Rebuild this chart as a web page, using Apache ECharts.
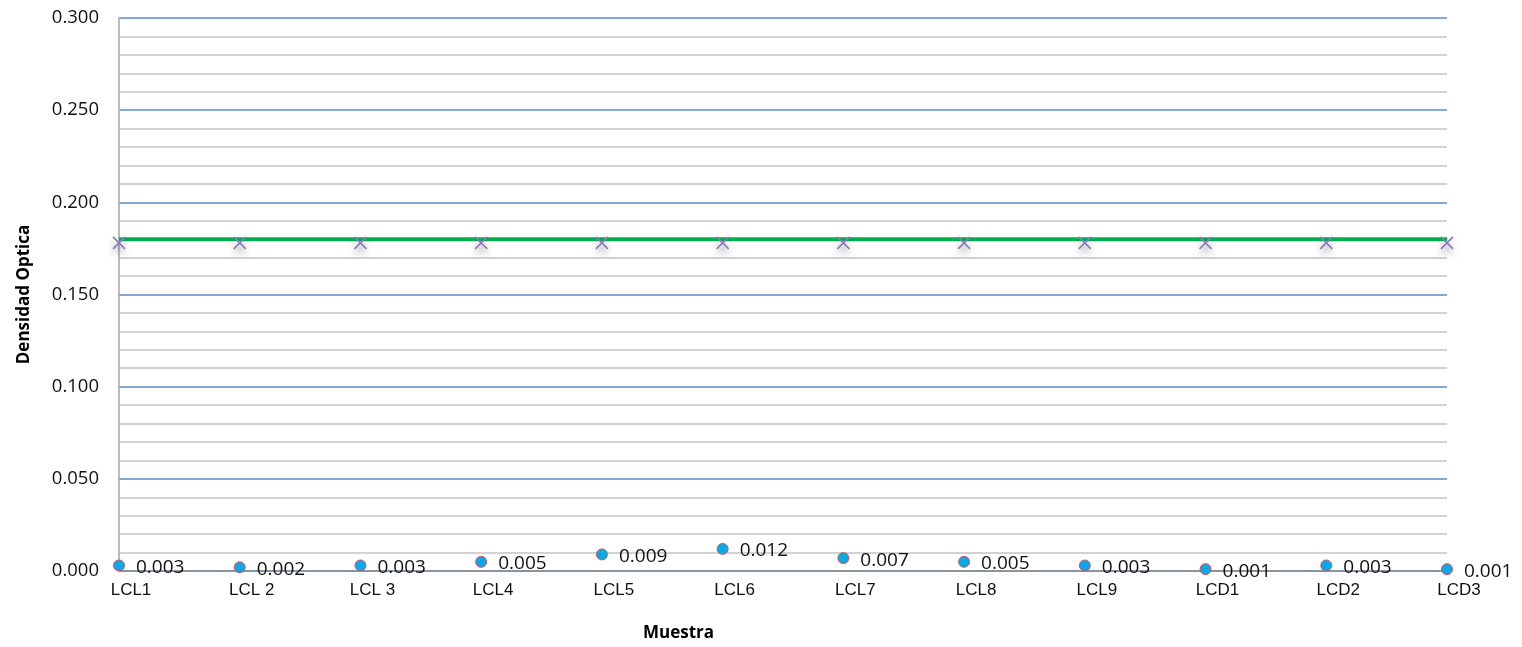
<!DOCTYPE html>
<html>
<head>
<meta charset="utf-8">
<script src="https://cdn.jsdelivr.net/npm/echarts@6/dist/echarts.min.js"></script>
<style>
  html, body { margin: 0; padding: 0; background: #fff; }
  #chart { width: 1522px; height: 647px; }
</style>
</head>
<body>
<div id="chart"></div>
<script>
// Muestras analizadas
const muestras = ['LCL1', 'LCL 2', 'LCL 3', 'LCL4', 'LCL5', 'LCL6', 'LCL7', 'LCL8', 'LCL9', 'LCD1', 'LCD2', 'LCD3'];
// Densidad óptica medida en cada muestra
const densidad = [0.003, 0.002, 0.003, 0.005, 0.009, 0.012, 0.007, 0.005, 0.003, 0.001, 0.003, 0.001];
// Punto de corte (línea verde)
const corte = [0.180, 0.180, 0.180, 0.180, 0.180, 0.180, 0.180, 0.180, 0.180, 0.180, 0.180, 0.180];
// Referencia marcada con aspas
const referencia = [0.178, 0.178, 0.178, 0.178, 0.178, 0.178, 0.178, 0.178, 0.178, 0.178, 0.178, 0.178];

const chart = echarts.init(document.getElementById('chart'));

chart.setOption({
  animation: false,
  backgroundColor: '#ffffff',
  grid: { left: 119, right: 75, top: 18, bottom: 76, containLabel: false },
  xAxis: {
    type: 'category',
    data: muestras,
    boundaryGap: false,
    axisLine: { show: true, lineStyle: { color: '#8c8c8c', width: 1.5 } },
    axisTick: { show: false },
    splitLine: { show: false },
    axisLabel: {
      color: '#111',
      fontFamily: 'Liberation Sans',
      fontSize: 17,
      margin: 11,
      padding: [0, 0, 0, 24],
      interval: 0
    }
  },
  yAxis: {
    type: 'value',
    min: 0,
    max: 0.3,
    interval: 0.05,
    name: 'Densidad Optica',
    nameLocation: 'middle',
    nameGap: 86,
    nameRotate: 90,
    nameTextStyle: { color: '#000', fontFamily: 'Open Sans', fontWeight: 'bold', fontSize: 17 },
    axisLine: { show: true, lineStyle: { color: '#a6a6a6', width: 1.5 } },
    axisTick: { show: false },
    minorTick: { show: false, splitNumber: 5 },
    minorSplitLine: { show: true, lineStyle: { color: '#c4c4c4', width: 1.5 } },
    splitLine: { show: true, lineStyle: { color: '#5f8bc9', width: 1.5 } },
    axisLabel: {
      color: '#111',
      fontFamily: 'Open Sans',
      fontSize: 18.5,
      margin: 20,
      formatter: v => v.toFixed(3)
    }
  },
  graphic: [{
    type: 'text',
    left: 643,
    top: 625,
    style: { text: 'Muestra', fill: '#000', font: 'bold 17px "Open Sans"' }
  }],
  series: [
    {
      name: 'Punto de corte',
      type: 'line',
      data: corte,
      showSymbol: false,
      symbol: 'none',
      lineStyle: { color: '#00b050', width: 4 },
      z: 3
    },
    {
      name: 'Referencia',
      type: 'line',
      data: referencia,
      lineStyle: { width: 0, opacity: 0 },
      symbol: 'path://M0,0 L10,10 M10,0 L0,10',
      symbolSize: 12,
      itemStyle: {
        color: 'transparent',
        borderColor: '#8b7bbf',
        borderWidth: 1.6,
        shadowBlur: 7,
        shadowColor: 'rgba(0,0,0,0.4)',
        shadowOffsetY: 5
      },
      z: 4
    },
    {
      name: 'Densidad óptica',
      type: 'line',
      data: densidad,
      lineStyle: { width: 0, opacity: 0 },
      symbol: 'circle',
      symbolSize: 11,
      itemStyle: { color: '#0aa8e6', borderColor: '#c8595a', borderWidth: 1 },
      label: {
        show: true,
        position: 'right',
        distance: 11,
        offset: [0, 2],
        color: '#111',
        fontFamily: 'Open Sans',
        fontSize: 19,
        formatter: p => p.value.toFixed(3)
      },
      z: 5
    }
  ]
});
</script>
</body>
</html>
